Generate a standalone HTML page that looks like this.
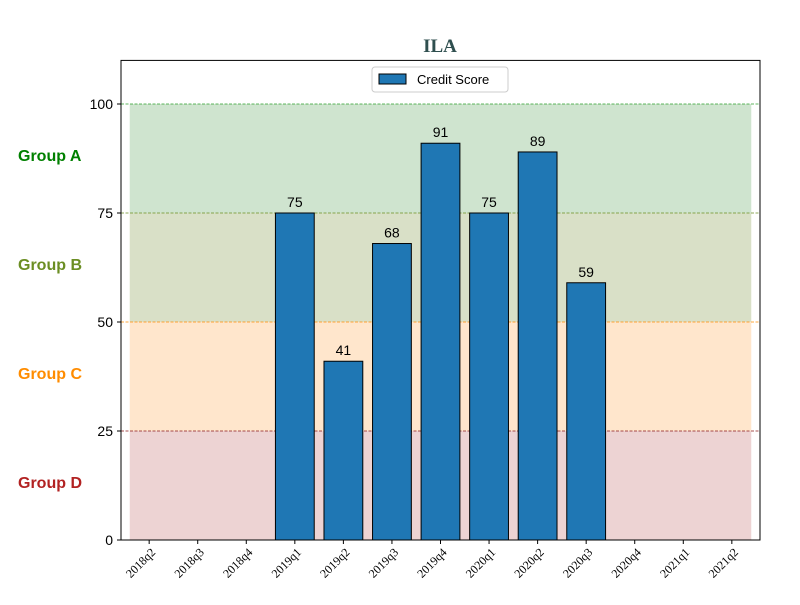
<!DOCTYPE html>
<html><head><meta charset="utf-8"><style>
body{margin:0;background:#fff;}
svg text{font-family:"Liberation Sans",sans-serif;}
</style></head><body>
<svg id="chart" width="800" height="600" xmlns="http://www.w3.org/2000/svg">
<rect width="800" height="600" fill="#fff"/>
<text x="440" y="52" text-anchor="middle" style="font-family:'Liberation Serif',serif" font-size="19" font-weight="bold" fill="#2f4f4f">ILA</text>
<g id="bands"></g><g id="lines"></g><g id="bars"></g><g id="labels"></g>
<rect x="121" y="60.4" width="639" height="479.6" fill="none" stroke="#000" stroke-width="1"/>
<g id="axes"></g>
<g>
<rect x="372" y="67" width="136" height="25" rx="3" fill="#fff" stroke="#ccc"/>
<rect x="379" y="74" width="27" height="10" fill="#1f77b4" stroke="#000"/>
<text x="417" y="84" font-size="13">Credit Score</text>
</g>
<text x="18" y="161" font-size="16" font-weight="bold" fill="#008000">Group A</text>
<text x="18" y="270" font-size="16" font-weight="bold" fill="#6b8e23">Group B</text>
<text x="18" y="379" font-size="16" font-weight="bold" fill="#ff8c00">Group C</text>
<text x="18" y="488" font-size="16" font-weight="bold" fill="#b22222">Group D</text>
</svg>
<script>
const categories=["2018q2","2018q3","2018q4","2019q1","2019q2","2019q3","2019q4","2020q1","2020q2","2020q3","2020q4","2021q1","2021q2"];
const scores=[null,null,null,75,41,68,91,75,89,59,null,null,null];
const yTicks=[0,25,50,75,100];
const bandLows=[0,25,50,75];
const bandHighs=[25,50,75,100];
const bandFills=["#edd3d3","#ffe6cc","#d9e0c7","#cfe4cf"];
const bandLineColors=["#8b1a1a","#ff8c00","#6b8e23","#2ca02c"];
const NS="http://www.w3.org/2000/svg";
const X0=121,X1=760,Y0=540,Y1=60.4,XMIN=-0.58,XMAX=12.58,YMAX=110;
const xs=v=>X0+(v-XMIN)/(XMAX-XMIN)*(X1-X0);
const ys=v=>Y0-v/YMAX*(Y0-Y1);
function mk(tag,attrs,parent){const e=document.createElementNS(NS,tag);for(const k in attrs)e.setAttribute(k,attrs[k]);document.getElementById(parent).appendChild(e);return e;}
for(let i=0;i<bandLows.length;i++){
 const r=mk('rect',{x:xs(-0.4),y:ys(bandHighs[i]),width:xs(12.4)-xs(-0.4),height:ys(bandLows[i])-ys(bandHighs[i]),fill:bandFills[i]},'bands');
 
 
 const l=mk('line',{x1:X0,x2:X1,y1:ys(bandHighs[i]),y2:ys(bandHighs[i]),stroke:bandLineColors[i],'stroke-width':0.8,'stroke-dasharray':'3,1.5'},'lines');
 
 
}
categories.forEach((c,i)=>{
 const cx=xs(i);
 if(scores[i]!=null){
  const b=mk('rect',{x:cx-0.4*48.5,y:ys(scores[i]),width:0.8*48.5,height:ys(0)-ys(scores[i]),fill:'#1f77b4',stroke:'#000','stroke-width':1},'bars');
  
  
  const t=mk('text',{x:cx,y:ys(scores[i])-6,'text-anchor':'middle','font-size':14},'labels');
  t.textContent=scores[i];
  
  
 }
 mk('line',{x1:cx,x2:cx,y1:Y0,y2:Y0+4,stroke:'#000'},'axes');
 const tl=mk('text',{x:0,y:0,'font-size':12,'text-anchor':'end',style:"font-family:'Liberation Serif',serif",transform:`translate(${cx+7},${Y0+13}) rotate(-45)`},'axes');
 tl.textContent=c;
 
 
});
yTicks.forEach(v=>{
 mk('line',{x1:X0-4,x2:X0,y1:ys(v),y2:ys(v),stroke:'#000'},'axes');
 const t=mk('text',{x:X0-8,y:ys(v)+5,'text-anchor':'end','font-size':14},'axes');
 t.textContent=v;
 
 
});
</script>
</body></html>
